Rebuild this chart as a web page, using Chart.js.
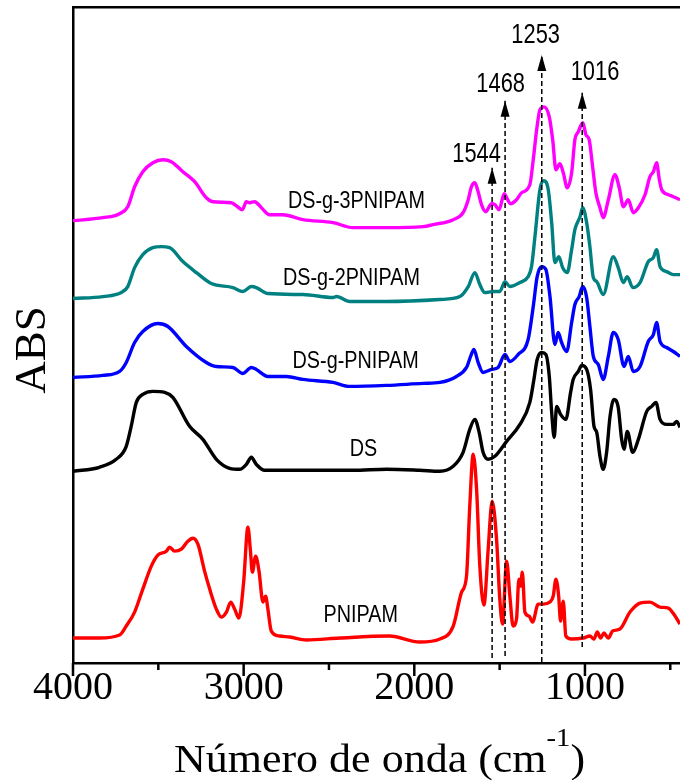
<!DOCTYPE html>
<html>
<head>
<meta charset="utf-8">
<script src="https://cdn.jsdelivr.net/npm/chart.js@4.4.1/dist/chart.umd.min.js"></script>
<style>
  html, body { margin: 0; padding: 0; background: #fff; }
  #wrap { width: 680px; height: 780px; }
</style>
</head>
<body>
<div id="wrap"><canvas id="ftir"></canvas></div>
<script>
// spectra: [wavenumber cm-1, relative absorbance]
var ds3 = [[4000,0],[3825,0.03],[3727,0.07],[3679,0.14],[3639,0.34],[3591,0.49],[3532,0.58],[3473,0.61],[3424,0.59],[3356,0.49],[3287,0.39],[3219,0.23],[3180,0.19],[3072,0.18],[3043,0.15],[3008,0.11],[2984,0.19],[2965,0.18],[2936,0.19],[2896,0.13],[2848,0.06],[2770,0.06],[2652,0.01],[2476,-0.02],[2359,-0.07],[2163,-0.07],[1948,-0.06],[1890,-0.04],[1772,0.01],[1714,0.08],[1684,0.21],[1665,0.34],[1645,0.38],[1626,0.29],[1606,0.16],[1582,0.09],[1547,0.17],[1528,0.16],[1503,0.11],[1473,0.27],[1459,0.23],[1436,0.17],[1401,0.21],[1371,0.28],[1323,0.36],[1303,0.61],[1283,0.91],[1264,1.11],[1240,1.14],[1209,1.04],[1189,0.81],[1170,0.51],[1147,0.57],[1127,0.48],[1104,0.33],[1078,0.48],[1059,0.81],[1039,0.89],[1012,0.98],[994,0.86],[975,0.81],[955,0.54],[936,0.28],[912,0.13],[893,0.03],[863,0.21],[824,0.46],[799,0.33],[775,0.14],[746,0.21],[717,0.08],[687,0.13],[648,0.26],[619,0.44],[599,0.49],[580,0.58],[564,0.41],[550,0.31],[511,0.26],[482,0.24],[443,0.21]];
var ds2 = [[4000,0],[3825,0.02],[3717,0.06],[3679,0.12],[3639,0.31],[3591,0.44],[3532,0.51],[3483,0.52],[3434,0.51],[3356,0.37],[3277,0.26],[3189,0.15],[3063,0.11],[3004,0.07],[2955,0.12],[2926,0.11],[2858,0.05],[2652,0.04],[2476,0.01],[2456,0.02],[2378,-0.03],[2163,-0.03],[1850,-0.01],[1733,0.02],[1684,0.12],[1645,0.26],[1616,0.14],[1587,0.06],[1538,0.07],[1499,0.07],[1469,0.17],[1440,0.12],[1381,0.16],[1333,0.22],[1313,0.32],[1293,0.62],[1264,1.09],[1241,1.18],[1215,1.09],[1195,0.76],[1176,0.36],[1153,0.42],[1131,0.31],[1104,0.26],[1078,0.49],[1059,0.69],[1029,0.82],[1013,0.91],[990,0.76],[971,0.52],[951,0.21],[931,0.17],[893,0.04],[834,0.42],[805,0.31],[775,0.16],[752,0.22],[720,0.11],[677,0.16],[629,0.37],[599,0.41],[580,0.49],[560,0.32],[521,0.27],[482,0.24],[443,0.24]];
var dsg = [[4000,0],[3825,0.02],[3727,0.06],[3688,0.15],[3639,0.35],[3591,0.46],[3503,0.54],[3444,0.51],[3336,0.31],[3219,0.15],[3160,0.11],[3063,0.10],[3004,0.04],[2955,0.10],[2926,0.08],[2858,0.01],[2750,0.01],[2652,-0.02],[2476,-0.05],[2378,-0.09],[2163,-0.08],[1948,-0.06],[1850,-0.05],[1753,0.01],[1694,0.10],[1670,0.21],[1651,0.28],[1626,0.15],[1597,0.05],[1547,0.08],[1509,0.10],[1469,0.23],[1440,0.16],[1391,0.23],[1333,0.38],[1303,0.71],[1280,1.01],[1254,1.11],[1229,1.08],[1205,0.81],[1176,0.33],[1157,0.45],[1137,0.35],[1107,0.26],[1078,0.55],[1059,0.73],[1034,0.81],[1013,0.91],[990,0.80],[971,0.51],[951,0.21],[922,0.13],[893,-0.02],[863,0.21],[834,0.45],[805,0.38],[771,0.11],[746,0.21],[717,0.06],[677,0.11],[629,0.36],[599,0.43],[580,0.55],[560,0.36],[521,0.30],[482,0.26],[443,0.21]];
var ds = [[4000,0],[3845,0.04],[3747,0.12],[3688,0.25],[3659,0.45],[3629,0.69],[3591,0.77],[3532,0.80],[3463,0.79],[3415,0.74],[3317,0.45],[3239,0.32],[3160,0.12],[3082,0.03],[3023,0.02],[2984,0.07],[2955,0.14],[2926,0.07],[2877,0.01],[2652,0.01],[2359,0.01],[2163,0.02],[1968,0.01],[1850,0],[1772,0.05],[1714,0.19],[1675,0.42],[1645,0.52],[1620,0.39],[1597,0.19],[1567,0.12],[1528,0.15],[1459,0.30],[1381,0.47],[1323,0.69],[1299,0.92],[1280,1.12],[1254,1.19],[1229,1.17],[1209,0.95],[1195,0.59],[1180,0.34],[1166,0.65],[1143,0.57],[1112,0.52],[1084,0.79],[1069,0.92],[1039,1.00],[1019,1.06],[990,1.02],[967,0.82],[947,0.45],[931,0.39],[912,0.15],[893,0.02],[873,0.19],[853,0.55],[830,0.72],[805,0.64],[785,0.32],[771,0.22],[752,0.40],[720,0.19],[687,0.32],[638,0.60],[609,0.65],[584,0.69],[560,0.52],[521,0.47],[482,0.47],[462,0.50],[443,0.44]];
var pnipam = [[4000,0],[3845,0],[3727,0.03],[3688,0.12],[3639,0.26],[3591,0.49],[3541,0.72],[3503,0.83],[3453,0.87],[3434,0.91],[3405,0.87],[3365,0.89],[3327,0.97],[3297,1.00],[3268,0.94],[3229,0.67],[3199,0.49],[3160,0.29],[3131,0.21],[3101,0.26],[3076,0.36],[3053,0.29],[3028,0.20],[3000,0.56],[2975,1.11],[2961,0.89],[2949,0.66],[2930,0.82],[2910,0.67],[2887,0.36],[2871,0.42],[2858,0.29],[2838,0.07],[2789,0.02],[2730,0.01],[2632,-0.02],[2437,0],[2144,0.02],[1968,-0.04],[1850,-0.01],[1772,0.12],[1723,0.46],[1694,0.62],[1675,1.32],[1655,1.84],[1635,1.49],[1616,0.72],[1592,0.33],[1567,0.89],[1544,1.37],[1518,0.99],[1499,0.39],[1483,0.14],[1459,0.77],[1440,0.42],[1421,0.12],[1401,0.19],[1387,0.59],[1377,0.52],[1367,0.66],[1352,0.26],[1327,0.22],[1307,0.16],[1274,0.34],[1245,0.34],[1205,0.36],[1186,0.42],[1170,0.59],[1154,0.42],[1143,0.17],[1127,0.37],[1112,0.02],[1078,-0.01],[1010,0],[971,0.02],[947,-0.01],[928,0.06],[908,0],[889,0.05],[863,0],[838,0.07],[795,0.09],[736,0.26],[677,0.35],[619,0.36],[560,0.31],[511,0.30],[472,0.22],[443,0.14]];

var seriesNames = ['DS-g-3PNIPAM', 'DS-g-2PNIPAM', 'DS-g-PNIPAM', 'DS', 'PNIPAM'];
var seriesData = [ds3, ds2, dsg, ds, pnipam];
var offsets = [4.43, 3.65, 2.86, 1.92, 0.25];     // vertical stacking of the spectra
var colors = ['#ff00ff', '#008080', '#0000ff', '#000000', '#ff0000'];
var nameWn = [2339, 2368, 2344, 2298, 2314];
var nameY = [4.64, 3.873, 3.04, 2.157, 0.49];

var peakWn = [1544, 1468, 1253, 1016];
var peakLabels = ['1544', '1468', '1253', '1016'];
var arrowTop = [4.96, 5.63, 6.09, 5.71];
var arrowBottom = [0.05, 0.07, 0.01, 0.16];
var peakLabelWn = [1635, 1494, 1289, 941];
var peakLabelY = [5.115, 5.815, 6.31, 5.937];

var xTicks = [500, 1000, 1500, 2000, 2500, 3000, 3500, 4000];

function stretchedText(ctx, text, cx, cy, size, sx) {
    ctx.save();
    ctx.font = size + 'px "Liberation Sans", Arial, sans-serif';
    ctx.textAlign = 'center';
    ctx.textBaseline = 'alphabetic';
    ctx.fillStyle = '#000';
    ctx.translate(cx, cy + size * 0.716 / 2);
    ctx.scale(sx, 1);
    ctx.fillText(text, 0, 0);
    ctx.restore();
}

var overlay = {
    id: 'overlay',
    afterDraw: function(chart) {
        var ctx = chart.ctx, area = chart.chartArea;
        var x = chart.scales.x, y = chart.scales.y;

        // tick marks, long for labelled ones
        ctx.save();
        ctx.strokeStyle = '#000';
        ctx.lineWidth = 2.5;
        xTicks.forEach(function(v) {
            var px = x.getPixelForValue(v);
            var len = v % 1000 === 0 ? 13 : 7;
            ctx.beginPath();
            ctx.moveTo(px, area.bottom);
            ctx.lineTo(px, area.bottom + len);
            ctx.stroke();
        });
        ctx.restore();

        // arrow heads
        ctx.save();
        ctx.fillStyle = '#000';
        peakWn.forEach(function(w, i) {
            var px = x.getPixelForValue(w);
            var py = y.getPixelForValue(arrowTop[i]);
            ctx.beginPath();
            ctx.moveTo(px, py);
            ctx.lineTo(px - 4.5, py + 16);
            ctx.lineTo(px + 4.5, py + 16);
            ctx.closePath();
            ctx.fill();
        });
        ctx.restore();

        peakLabels.forEach(function(t, i) {
            stretchedText(ctx, t, x.getPixelForValue(peakLabelWn[i]), y.getPixelForValue(peakLabelY[i]), 28, 0.78);
        });
        seriesNames.forEach(function(t, i) {
            stretchedText(ctx, t, x.getPixelForValue(nameWn[i]), y.getPixelForValue(nameY[i]), 23, 0.86);
        });

        // y title
        ctx.save();
        ctx.font = '45px "Liberation Serif", "Times New Roman", serif';
        ctx.fillStyle = '#000';
        ctx.textAlign = 'center';
        ctx.textBaseline = 'alphabetic';
        ctx.translate(45, 350);
        ctx.rotate(-Math.PI / 2);
        ctx.fillText('ABS', 0, 0);
        ctx.restore();

        // x title with superscript
        ctx.save();
        var main = 'Número de onda (cm', sup = '-1', close = ')';
        var big = '40px "Liberation Serif", "Times New Roman", serif';
        var small = '26px "Liberation Serif", "Times New Roman", serif';
        ctx.font = big;
        var w1 = ctx.measureText(main).width, w3 = ctx.measureText(close).width;
        ctx.font = small;
        var w2 = ctx.measureText(sup).width;
        var sx = 1.1;
        var total = (w1 + w2 + w3) * sx;
        var cx = (area.left + area.right) / 2 + 3;
        ctx.translate(cx - total / 2, 771.5);
        ctx.scale(sx, 1);
        ctx.fillStyle = '#000';
        ctx.textBaseline = 'alphabetic';
        ctx.textAlign = 'left';
        ctx.font = big;
        ctx.fillText(main, 0, 0);
        ctx.font = small;
        ctx.fillText(sup, w1, -26);
        ctx.font = big;
        ctx.fillText(close, w1 + w2, 0);
        ctx.restore();
    }
};

var datasets = [];
peakWn.forEach(function(w, i) {
    datasets.push({
        data: [{x: w, y: arrowBottom[i]}, {x: w, y: arrowTop[i]}],
        borderColor: '#000',
        borderWidth: 1.5,
        borderDash: [5, 3],
        pointRadius: 0,
        fill: false
    });
});
seriesData.forEach(function(s, i) {
    datasets.push({
        label: seriesNames[i],
        data: s.map(function(p) { return {x: p[0], y: p[1] + offsets[i]}; }),
        borderColor: colors[i],
        borderWidth: 3.4,
        pointRadius: 0,
        cubicInterpolationMode: 'monotone',
        fill: false
    });
});

var chart = new Chart(document.getElementById('ftir'), {
    type: 'line',
    data: { datasets: datasets },
    options: {
        responsive: true,
        maintainAspectRatio: false,
        animation: false,
        devicePixelRatio: 1,
        layout: { padding: { left: 73, right: 0, top: 7, bottom: 67 } },
        plugins: { legend: { display: false }, tooltip: { enabled: false } },
        scales: {
            x: {
                type: 'linear',
                reverse: true,
                min: 443,
                max: 4000,
                afterBuildTicks: function(scale) {
                    scale.ticks = xTicks.map(function(v) { return {value: v}; });
                },
                grid: { display: false, drawTicks: false, tickLength: 0 },
                border: { display: true, color: '#000', width: 2.5 },
                ticks: {
                    autoSkip: false,
                    maxRotation: 0,
                    padding: 1,
                    color: '#000',
                    font: { family: '"Liberation Serif", "Times New Roman", serif', size: 40 },
                    callback: function(v) { return v % 1000 === 0 ? String(v) : ''; }
                }
            },
            x2: {
                type: 'linear',
                position: 'top',
                grid: { display: false, drawTicks: false },
                border: { display: true, color: '#000', width: 2.5 },
                ticks: { display: false }
            },
            y: {
                min: 0,
                max: 6.57,
                grid: { display: false, drawTicks: false },
                border: { display: true, color: '#000', width: 2.5 },
                ticks: { display: false }
            }
        }
    },
    plugins: [overlay]
});
</script>
</body>
</html>
